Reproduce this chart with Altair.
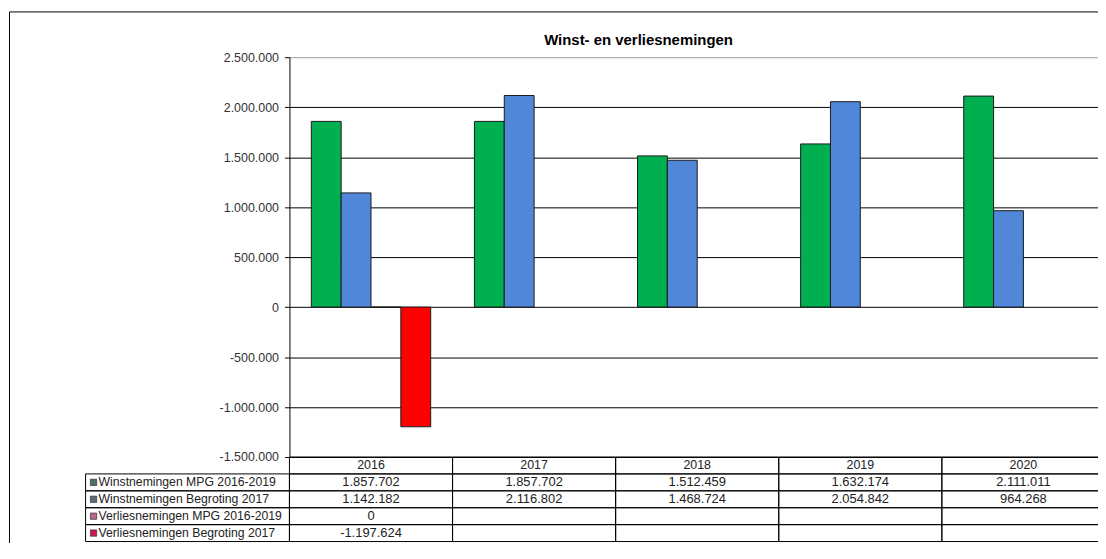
import altair as alt
import pandas as pd

# ---------------- data ----------------
title_text = "Winst- en verliesnemingen"
years = ["2016", "2017", "2018", "2019", "2020"]
series_names = [
    "Winstnemingen MPG 2016-2019",
    "Winstnemingen Begroting 2017",
    "Verliesnemingen MPG 2016-2019",
    "Verliesnemingen Begroting 2017",
]
winst_mpg = [1857702, 1857702, 1512459, 1632174, 2111011]
winst_begroting = [1142182, 2116802, 1468724, 2054842, 964268]
verlies_mpg = [0, None, None, None, None]
verlies_begroting = [-1197624, None, None, None, None]
y_ticks = [-1500000, -1000000, -500000, 0, 500000, 1000000, 1500000, 2000000, 2500000]

bar_colors = ["#00b050", "#5087d8", "#c0607e", "#ff0000"]
key_colors = ["#4d7262", "#5f6b72", "#b8688a", "#d4154e"]

# ---------------- tables ----------------
all_series = [winst_mpg, winst_begroting, verlies_mpg, verlies_begroting]
records = []
for s, vals in zip(series_names, all_series):
    for y, v in zip(years, vals):
        if v is not None:
            records.append({"year": y, "series": s, "value": v})
values_df = pd.DataFrame(records)

HDR = "_hdr"
row_domain = [HDR] + series_names
cells_df = pd.DataFrame([{"year": y, "row": r} for r in row_domain for y in years])
header_df = pd.DataFrame({"year": years, "row": [HDR] * len(years)})
labels_df = pd.DataFrame({"row": series_names, "key": key_colors})
title_df = pd.DataFrame({"t": [title_text]})
frame_df = pd.DataFrame({"k": [1]})

FONT = "Liberation Sans"
fmt_expr = "replace(replace(format(datum.value, ',.0f'), regexp(',', 'g'), '.'), '\u2212', '-')"

x_scale = alt.Scale(domain=years, range=[0, 820], paddingInner=0, paddingOuter=0)
row_scale = alt.Scale(domain=row_domain, range=[402, 487], paddingInner=0, paddingOuter=0)

X = alt.X("year:N", scale=x_scale, axis=None, sort=years)
ROW = alt.Y("row:N", scale=row_scale, axis=None, sort=row_domain)

bars = alt.Chart(values_df).mark_bar(stroke="#1a1a1a", strokeWidth=1).encode(
    x=X,
    xOffset=alt.XOffset("series:N", sort=series_names,
                        scale=alt.Scale(domain=series_names, paddingInner=0, paddingOuter=0.733)),
    y=alt.Y("value:Q",
            scale=alt.Scale(domain=[-1500000, 2500000], range=[402, 0], nice=False, zero=False),
            axis=alt.Axis(values=y_ticks, title=None, labelExpr=fmt_expr,
                          labelFont=FONT, labelFontSize=12.5, labelColor="#333333",
                          labelPadding=6, tickSize=5, tickColor="#000000",
                          domainColor="#000000", grid=True,
                          gridColor={"condition": {"test": "datum.value === 2500000", "value": "#a0a0a0"},
                                     "value": "#000000"})),
    color=alt.Color("series:N", scale=alt.Scale(domain=series_names, range=bar_colors), legend=None),
)

cells = alt.Chart(cells_df).mark_rect(filled=False, color="#000000", strokeWidth=1).encode(
    x=X, y=ROW
)

header = alt.Chart(header_df).mark_text(font=FONT, fontSize=12.5, color="#222222",
                                        baseline="middle", align="center").encode(
    x=X, y=ROW, text="year:N"
)

numbers = alt.Chart(values_df).transform_calculate(
    row="datum.series",
    txt=fmt_expr,
).mark_text(font=FONT, fontSize=13, color="#222222", baseline="middle", align="center").encode(
    x=X, y=ROW, text="txt:N"
)

label_box = alt.Chart(labels_df).mark_rect(filled=False, color="#000000", strokeWidth=1).encode(
    x=alt.value(-205), x2=alt.value(0), y=ROW
)

keys = alt.Chart(labels_df).mark_square(size=40, stroke="#333333", strokeWidth=0.7, opacity=1).encode(
    x=alt.value(-197), y=ROW,
    color=alt.Color("key:N", scale=None, legend=None),
)

label_text = alt.Chart(labels_df).mark_text(font=FONT, fontSize=12.3, color="#222222",
                                            baseline="middle", align="left").encode(
    x=alt.value(-192), y=ROW, text="row:N"
)

title = alt.Chart(title_df).mark_text(font=FONT, fontSize=15, fontWeight="bold", color="#000000",
                                      baseline="alphabetic", align="center").encode(
    x=alt.value(351), y=alt.value(-12), text="t:N"
)

frame = alt.Chart(frame_df).mark_rect(filled=False, color="#000000", strokeWidth=1).encode(
    x=alt.value(-281.5), x2=alt.value(1000), y=alt.value(-45.5), y2=alt.value(700)
)

chart = alt.layer(
    frame, bars, cells, header, numbers, label_box, keys, label_text, title
).resolve_scale(y="independent").properties(
    width=813,
    height=487,
    autosize=alt.AutoSizeParams(type="none"),
    padding={"left": 283, "top": 48, "right": 0, "bottom": 0},
).configure_view(strokeOpacity=0)

chart.save("out.html", embed_options={"renderer": "svg", "actions": False})
